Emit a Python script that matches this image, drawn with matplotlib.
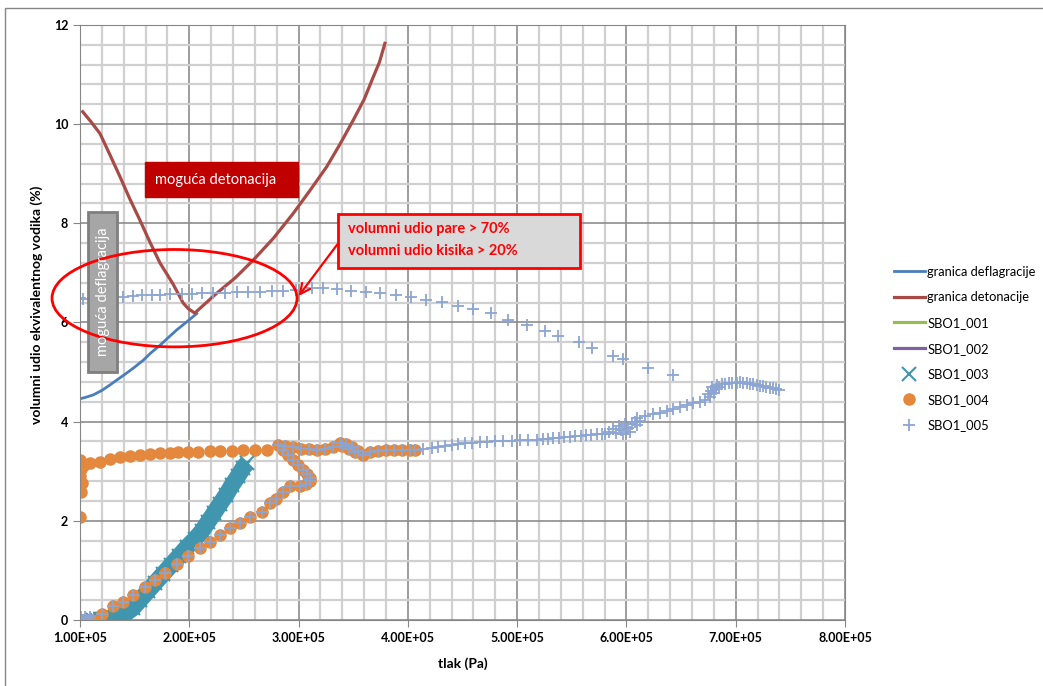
import numpy as np
import matplotlib.pyplot as plt
from matplotlib.patches import Rectangle, Ellipse
from matplotlib.ticker import MultipleLocator, FuncFormatter

plt.rcParams['font.family'] = ['Lato', 'DejaVu Sans']

# pressures are given in units of 1e5 Pa, fractions in %
defl_p = [1.016, 1.05, 1.122, 1.20, 1.274, 1.35, 1.427, 1.50, 1.579, 1.65, 1.732,
          1.81, 1.885, 1.97, 2.068]
defl_y = [4.47, 4.49, 4.54, 4.63, 4.74, 4.86, 4.98, 5.10, 5.24, 5.39, 5.54,
          5.70, 5.85, 6.00, 6.18]

det_p = [1.025, 1.10, 1.183, 1.27, 1.366, 1.45, 1.549, 1.64, 1.732, 1.85, 1.945,
         1.99, 2.05, 2.12, 2.251, 2.42, 2.586, 2.77, 2.951, 3.10, 3.257, 3.38,
         3.500, 3.60, 3.683, 3.74, 3.79]
det_y = [10.25, 10.05, 9.81, 9.40, 8.94, 8.52, 8.06, 7.62, 7.20, 6.78, 6.39,
         6.28, 6.19, 6.33, 6.59, 6.90, 7.26, 7.70, 8.20, 8.65, 9.14, 9.60,
         10.08, 10.50, 10.95, 11.25, 11.63]

sbo1_p = []
sbo1_y = []
sbo2_p = []
sbo2_y = []

# SBO1_003 - dense band of points (traced centre of the band)
sbo3_p = [1.12, 1.16, 1.20, 1.24, 1.320, 1.412, 1.485, 1.549, 1.622, 1.686, 1.759,
          1.833, 1.906, 1.979, 2.052, 2.116, 2.171, 2.226, 2.281, 2.336, 2.391,
          2.446, 2.491, 2.528]
sbo3_y = [0.0, 0.0, 0.01, 0.025, 0.06, 0.121, 0.242, 0.403, 0.585, 0.746, 0.927,
          1.109, 1.29, 1.472, 1.633, 1.794, 1.976, 2.157, 2.339, 2.52, 2.722,
          2.903, 3.065, 3.165]

# SBO1_004 - upper branch
sbo4_up_p = [1.0, 1.009, 1.015, 1.0, 1.005, 1.01, 1.0, 1.04, 1.091, 1.183, 1.274,
             1.366, 1.457, 1.549, 1.640, 1.732, 1.823, 1.899, 1.991, 2.082,
             2.189, 2.281, 2.388, 2.494, 2.601, 2.708]
sbo4_up_y = [2.08, 2.59, 2.76, 2.90, 3.05, 3.17, 3.23, 3.12, 3.159, 3.192, 3.24,
             3.28, 3.306, 3.327, 3.347, 3.361, 3.373, 3.381, 3.387, 3.393,
             3.401, 3.407, 3.413, 3.421, 3.433, 3.433]

# SBO1_004 - lower branch, loop and plateau (shared with SBO1_005)
sbo4_lo_p = [1.0, 1.03, 1.107, 1.199, 1.305, 1.396, 1.488, 1.595, 1.686, 1.778,
             1.885, 1.991, 2.098, 2.189, 2.281, 2.372, 2.464, 2.555, 2.662, 2.738,
             2.79, 2.857, 2.92, 3.013, 3.068, 3.104, 3.104, 3.077, 3.04, 2.995,
             2.949, 2.903, 2.857, 2.814, 2.876, 2.949, 3.022, 3.095, 3.168, 3.241,
             3.315, 3.379, 3.434, 3.489, 3.543, 3.589, 3.653, 3.726, 3.800, 3.873,
             3.946, 4.019, 4.065, 3.40, 3.46, 3.52]
sbo4_lo_y = [0.0, 0.0, 0.0, 0.121, 0.282, 0.369, 0.504, 0.671, 0.806, 0.954,
             1.129, 1.29, 1.446, 1.579, 1.714, 1.849, 1.949, 2.07, 2.184, 2.353,
             2.45, 2.59, 2.70, 2.70, 2.74, 2.80, 2.87, 2.95, 3.02, 3.12,
             3.23, 3.33, 3.43, 3.53, 3.51, 3.48, 3.458, 3.448, 3.437, 3.448,
             3.488, 3.569, 3.548, 3.488, 3.407, 3.327, 3.387, 3.407, 3.427, 3.427,
             3.427, 3.437, 3.437, 3.50, 3.45, 3.38]

# SBO1_005 - upper branch
sbo5_up_p = [1.0, 1.03, 1.119, 1.21, 1.302, 1.396, 1.488, 1.565, 1.656, 1.732,
             1.823, 1.930, 2.022, 2.113, 2.220, 2.327, 2.434, 2.540, 2.647, 2.754,
             2.860, 2.976, 3.120, 3.226, 3.349, 3.477, 3.617, 3.745, 3.891, 4.026,
             4.166, 4.309, 4.456, 4.598, 4.763, 4.919, 5.087, 5.254, 5.376, 5.563,
             5.682, 5.874, 5.971, 6.197, 6.428]
sbo5_up_y = [6.486, 6.472, 6.49, 6.50, 6.51, 6.518, 6.532, 6.546, 6.552, 6.558,
             6.567, 6.567, 6.573, 6.587, 6.587, 6.599, 6.607, 6.613, 6.619, 6.627,
             6.639, 6.66, 6.688, 6.688, 6.673, 6.639, 6.613, 6.587, 6.552, 6.506,
             6.452, 6.405, 6.337, 6.264, 6.183, 6.048, 5.948, 5.833, 5.732, 5.599,
             5.478, 5.323, 5.256, 5.081, 4.94]

# SBO1_005 - continuation of the lower path beyond 4.1E+05
sbo5_tail_p = [4.141, 4.218, 4.279, 4.340, 4.401, 4.461, 4.522, 4.584, 4.660, 4.721,
               4.797, 4.873, 4.950, 5.026, 5.102, 5.178, 5.239, 5.28, 5.33, 5.38,
               5.43, 5.48, 5.53, 5.58, 5.63, 5.68, 5.73, 5.78, 5.80, 5.84,
               5.88, 5.90, 5.93, 5.95, 5.97, 5.99, 6.01, 6.03, 6.05, 6.08,
               6.10, 6.12, 6.093, 6.169, 6.245, 6.307, 6.368, 6.428, 6.489, 6.551,
               6.611, 6.672, 6.718, 6.764, 6.75, 6.77, 6.78, 6.80, 6.82, 6.83,
               6.85, 6.87, 6.90, 6.94, 6.97, 7.01, 7.04, 7.07, 7.10, 7.13,
               7.16, 7.19, 7.22, 7.25, 7.28, 7.31, 7.34, 7.37, 7.40]
sbo5_tail_y = [3.441, 3.461, 3.481, 3.508, 3.528, 3.548, 3.562, 3.575, 3.589, 3.595,
               3.609, 3.615, 3.615, 3.623, 3.629, 3.635, 3.655, 3.66, 3.67, 3.68,
               3.69, 3.70, 3.71, 3.72, 3.73, 3.74, 3.75, 3.76, 3.76, 3.80,
               3.86, 3.78, 3.92, 3.84, 3.76, 3.95, 3.88, 3.80, 3.96, 4.00,
               3.93, 4.02, 4.066, 4.113, 4.153, 4.179, 4.207, 4.248, 4.288, 4.335,
               4.369, 4.401, 4.435, 4.502, 4.55, 4.62, 4.70, 4.58, 4.66, 4.74,
               4.70, 4.76, 4.76, 4.78, 4.77, 4.78, 4.79, 4.78, 4.77, 4.76,
               4.75, 4.73, 4.72, 4.71, 4.70, 4.68, 4.67, 4.65, 4.64]

# SBO1_005 - cluster at the start
sbo5_start_p = [1.0, 1.02, 1.04, 1.06, 1.08, 1.10, 1.12, 1.01, 1.05, 1.09]
sbo5_start_y = [0.0, 0.0, 0.0, 0.0, 0.0, 0.0, 0.0, 0.07, 0.07, 0.07]

sbo5_p = sbo5_start_p + sbo4_lo_p + sbo5_tail_p + sbo5_up_p
sbo5_y = sbo5_start_y + sbo4_lo_y + sbo5_tail_y + sbo5_up_y

E5 = 1e5

fig = plt.figure(figsize=(10.43, 6.86), dpi=100)
ax = fig.add_axes([0.0767, 0.0962, 0.7335, 0.8674])

ax.plot(np.array(defl_p) * E5, defl_y, color='#4a7ebb', lw=2.0, label='granica deflagracije')
ax.plot(np.array(det_p) * E5, det_y, color='#a84b47', lw=2.3, label='granica detonacije')
ax.plot(np.array(sbo1_p) * E5, sbo1_y, color='#98b954', lw=2.3, label='SBO1_001')
ax.plot(np.array(sbo2_p) * E5, sbo2_y, color='#7d60a0', lw=2.3, label='SBO1_002')
# the band of SBO1_003 points is so dense that it reads as a thick stroke
ax.plot(np.array(sbo3_p) * E5, sbo3_y, color='#4096ae', lw=12, solid_capstyle='butt',
        label='_nolegend_')
ax.plot(np.array(sbo3_p) * E5, sbo3_y, ls='none', marker='x', ms=10, mew=1.5,
        color='#4096ae', label='SBO1_003')
ax.plot(np.array(sbo4_up_p + sbo4_lo_p) * E5, sbo4_up_y + sbo4_lo_y, ls='none',
        marker='o', ms=8, color='#e3883d', mec='#e3883d', label='SBO1_004')
ax.plot(np.array(sbo5_p) * E5, sbo5_y, ls='none', marker='+', ms=9, mew=1.3,
        color='#8ca5d2', label='SBO1_005')

ax.set_xlim(1e5, 8e5)
ax.set_ylim(0, 12)
ax.xaxis.set_major_locator(MultipleLocator(1e5))
ax.xaxis.set_minor_locator(MultipleLocator(0.2e5))
ax.yaxis.set_major_locator(MultipleLocator(2))
ax.yaxis.set_minor_locator(MultipleLocator(0.4))
ax.xaxis.set_major_formatter(FuncFormatter(lambda v, pos: f'{v:.2E}'))
ax.grid(which='major', color='#8c8c8c', lw=1.2, zorder=0)
ax.grid(which='minor', color='#d0d0d0', lw=1.6, zorder=0)
ax.set_axisbelow(True)
ax.tick_params(which='minor', length=0)
ax.tick_params(which='major', length=5, color='#868686', direction='out')
for lab in ax.get_xticklabels() + ax.get_yticklabels():
    lab.set_fontweight('bold')
    lab.set_fontsize(9)
for s in ax.spines.values():
    s.set_color('#868686')

ax.set_xlabel('tlak (Pa)', fontweight='bold', fontsize=10, labelpad=10)
ax.set_ylabel('volumni udio ekvivalentnog vodika (%)', fontweight='bold', fontsize=10)
ax.yaxis.set_label_coords(-0.048, 0.53)

# annotations
ax.add_patch(Rectangle((1.595 * E5, 8.53), 1.40 * E5, 0.70, facecolor='#c00000',
                       edgecolor='#c00000', zorder=10))
ax.text(1.69 * E5, 8.88, 'moguća detonacija', color='white', fontsize=10.5,
        va='center', ha='left', zorder=11)

ax.add_patch(Rectangle((1.073 * E5, 5.0), 0.266 * E5, 3.226, facecolor='#a6a6a6',
                       edgecolor='#7f7f7f', lw=2, zorder=10))
ax.text(1.206 * E5, 6.62, 'moguća deflagracija', color='white', fontsize=10.5,
        rotation=90, va='center', ha='center', zorder=11)

ax.add_patch(Ellipse((1.865 * E5, 6.49), 2.242 * E5, 1.964, fill=False,
                     edgecolor='#ff0000', lw=2, zorder=10, clip_on=False))

ax.add_patch(Rectangle((3.36 * E5, 7.097), 2.214 * E5, 1.088, facecolor='#d9d9d9',
                       edgecolor='#ff0000', lw=2, zorder=10))
ax.text(3.45 * E5, 7.88, 'volumni udio pare > 70%', color='#ff0000', fontsize=10.5,
        fontweight='bold', va='center', ha='left', zorder=11)
ax.text(3.45 * E5, 7.44, 'volumni udio kisika > 20%', color='#ff0000', fontsize=10.5,
        fontweight='bold', va='center', ha='left', zorder=11)
ax.annotate('', xy=(2.985 * E5, 6.49), xytext=(3.37 * E5, 7.62),
            arrowprops=dict(arrowstyle='->', color='#ff0000', lw=1.6,
                            mutation_scale=18), zorder=11)

fig.legend(loc='upper left', bbox_to_anchor=(0.852, 0.620), frameon=False,
           fontsize=9.3, handlelength=2.4, handletextpad=0.2, labelspacing=1.05,
           borderaxespad=0)

# outer chart border
fig.add_artist(Rectangle((5 / 1043, -0.05), 1.1, (686 - 8) / 686 + 0.05,
                         transform=fig.transFigure, fill=False,
                         edgecolor='#868686', lw=1))

fig.savefig('out.png', dpi=100)
